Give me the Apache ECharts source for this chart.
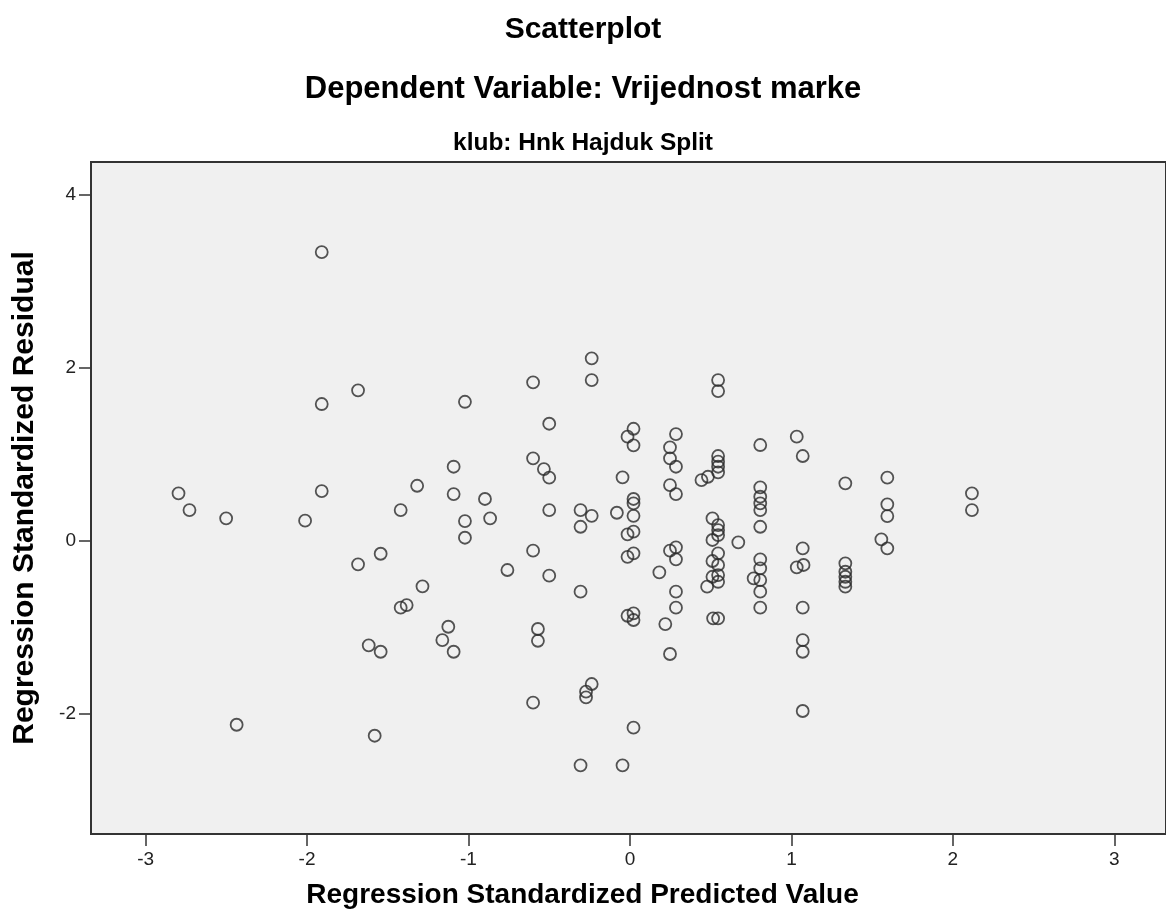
<!DOCTYPE html>
<html>
<head>
<meta charset="utf-8">
<script src="https://cdn.jsdelivr.net/npm/echarts@6/dist/echarts.min.js"></script>
<style>
html,body{margin:0;padding:0;background:#fff;}
#chart{width:1166px;height:923px;}
</style>
</head>
<body>
<div id="chart"></div>
<script>
// Regression standardized predicted values (x) and residuals (y)
const predicted = [
-2.796,-2.728,-2.501,-2.012,-1.909,-1.909,-1.909,-1.684,-1.684,-1.544,
-1.618,-1.544,-1.581,-2.436,-1.420,-1.318,-1.420,-1.383,-1.285,-1.125,
-1.162,-1.092,-1.092,-1.092,-1.022,-1.022,-1.022,-0.898,-0.866,-0.759,
-0.600,-0.600,-0.600,-0.600,-0.500,-0.533,-0.500,-0.500,-0.500,-0.570,
-0.570,-0.306,-0.306,-0.237,-0.306,-0.237,-0.237,-0.237,-0.272,-0.272,
-0.306,-0.046,0.022,-0.046,-0.081,0.022,-0.015,0.022,0.022,0.022,
0.022,-0.015,0.022,-0.015,0.022,-0.015,0.022,0.022,0.182,0.219,
0.248,0.285,0.248,0.248,0.285,0.248,0.285,0.248,0.285,0.285,
0.285,0.285,0.443,0.483,0.546,0.546,0.546,0.546,0.546,0.546,
0.511,0.546,0.546,0.546,0.511,0.546,0.511,0.546,0.511,0.546,
0.546,0.478,0.546,0.515,0.671,0.807,0.807,0.807,0.807,0.807,
0.807,0.807,0.807,0.766,0.807,0.807,0.807,1.033,1.070,1.070,
1.033,1.075,1.070,1.070,1.070,1.070,1.334,1.334,1.334,1.334,
1.334,1.334,1.557,1.594,1.594,1.594,1.594,2.118,2.118
];
const residual = [
0.551,0.358,0.262,0.235,3.341,1.584,0.578,1.742,-0.269,-0.147,
-1.206,-1.280,-2.251,-2.124,0.358,0.639,-0.771,-0.740,-0.524,-0.991,
-1.145,-1.280,0.859,0.543,1.610,0.231,0.038,0.486,0.262,-0.335,
1.835,0.956,-0.112,-1.869,1.356,0.832,0.732,0.358,-0.401,-1.017,
-1.153,0.358,0.165,0.292,-0.586,2.112,1.861,-1.653,-1.742,-1.807,
-2.593,-2.593,-2.158,0.736,0.327,1.298,1.206,1.106,0.486,0.436,
0.292,0.077,0.108,-0.182,-0.142,-0.864,-0.836,-0.913,-0.362,-0.960,
-1.306,1.237,1.083,0.956,0.859,0.647,0.543,-0.112,-0.073,-0.212,
-0.586,-0.771,0.705,0.743,1.861,1.734,0.983,0.917,0.859,0.794,
0.262,0.185,0.127,0.069,0.012,-0.142,-0.231,-0.277,-0.413,-0.393,
-0.471,-0.528,-0.894,-0.894,-0.015,1.110,0.621,0.512,0.436,0.358,
0.165,-0.212,-0.316,-0.431,-0.451,-0.586,-0.771,1.206,0.983,-0.084,
-0.304,-0.277,-0.771,-1.145,-1.280,-1.965,0.667,-0.258,-0.355,-0.413,
-0.471,-0.528,0.020,-0.084,0.732,0.424,0.289,0.551,0.358
];
const xTicks = [-3,-2,-1,0,1,2,3];
const yTicks = [-2,0,2,4];

const points = predicted.map((x, i) => [x, residual[i]]);
const FONT = "'Liberation Sans', Arial, sans-serif";

const chart = echarts.init(document.getElementById('chart'), null, {renderer: 'canvas'});
chart.setOption({
  backgroundColor: '#ffffff',
  animation: false,
  title: [
    {text: 'Scatterplot', left: 'center', top: 10,
     textStyle: {fontFamily: FONT, fontSize: 30, fontWeight: 'bold', color: '#000'}},
    {text: 'Dependent Variable: Vrijednost marke', left: 'center', top: 69,
     textStyle: {fontFamily: FONT, fontSize: 31, fontWeight: 'bold', color: '#000'}},
    {text: 'klub: Hnk Hajduk Split', left: 'center', top: 126,
     textStyle: {fontFamily: FONT, fontSize: 24.5, fontWeight: 'bold', color: '#000'}}
  ],
  grid: {
    left: 91, top: 162, right: -5, bottom: 89,
    show: true, backgroundColor: '#f0f0f0', borderColor: '#333', borderWidth: 2
  },
  xAxis: {
    type: 'value', min: -3.338, max: 3.320,
    name: 'Regression Standardized Predicted Value',
    nameLocation: 'middle', nameGap: 47,
    nameTextStyle: {fontFamily: FONT, fontSize: 28, fontWeight: 'bold', color: '#000',
      padding: [0, 92, 0, 0]},
    splitLine: {show: false},
    axisLine: {show: true, onZero: false, lineStyle: {color: '#333', width: 2}},
    axisTick: {show: true, inside: false, length: 12, customValues: xTicks, lineStyle: {color: '#333', width: 1.5}},
    axisLabel: {customValues: xTicks, fontFamily: FONT, fontSize: 19, color: '#222', margin: 16,
      formatter: v => String(v)}
  },
  yAxis: {
    type: 'value', min: -3.387, max: 4.382,
    name: 'Regression Standardized Residual',
    nameLocation: 'middle', nameGap: 51, nameRotate: 90,
    nameTextStyle: {fontFamily: FONT, fontSize: 30, fontWeight: 'bold', color: '#000'},
    splitLine: {show: false},
    axisLine: {show: true, onZero: false, lineStyle: {color: '#333', width: 2}},
    axisTick: {show: true, inside: false, length: 12, customValues: yTicks, lineStyle: {color: '#333', width: 1.5}},
    axisLabel: {customValues: yTicks, fontFamily: FONT, fontSize: 19, color: '#222', margin: 15,
      formatter: v => String(v)}
  },
  series: [{
    type: 'scatter',
    data: points,
    symbol: 'circle',
    symbolSize: 12,
    itemStyle: {color: 'rgba(0,0,0,0)', borderColor: '#2a2a2a', borderWidth: 1.8},
    emphasis: {disabled: true}
  }]
});
</script>
</body>
</html>
